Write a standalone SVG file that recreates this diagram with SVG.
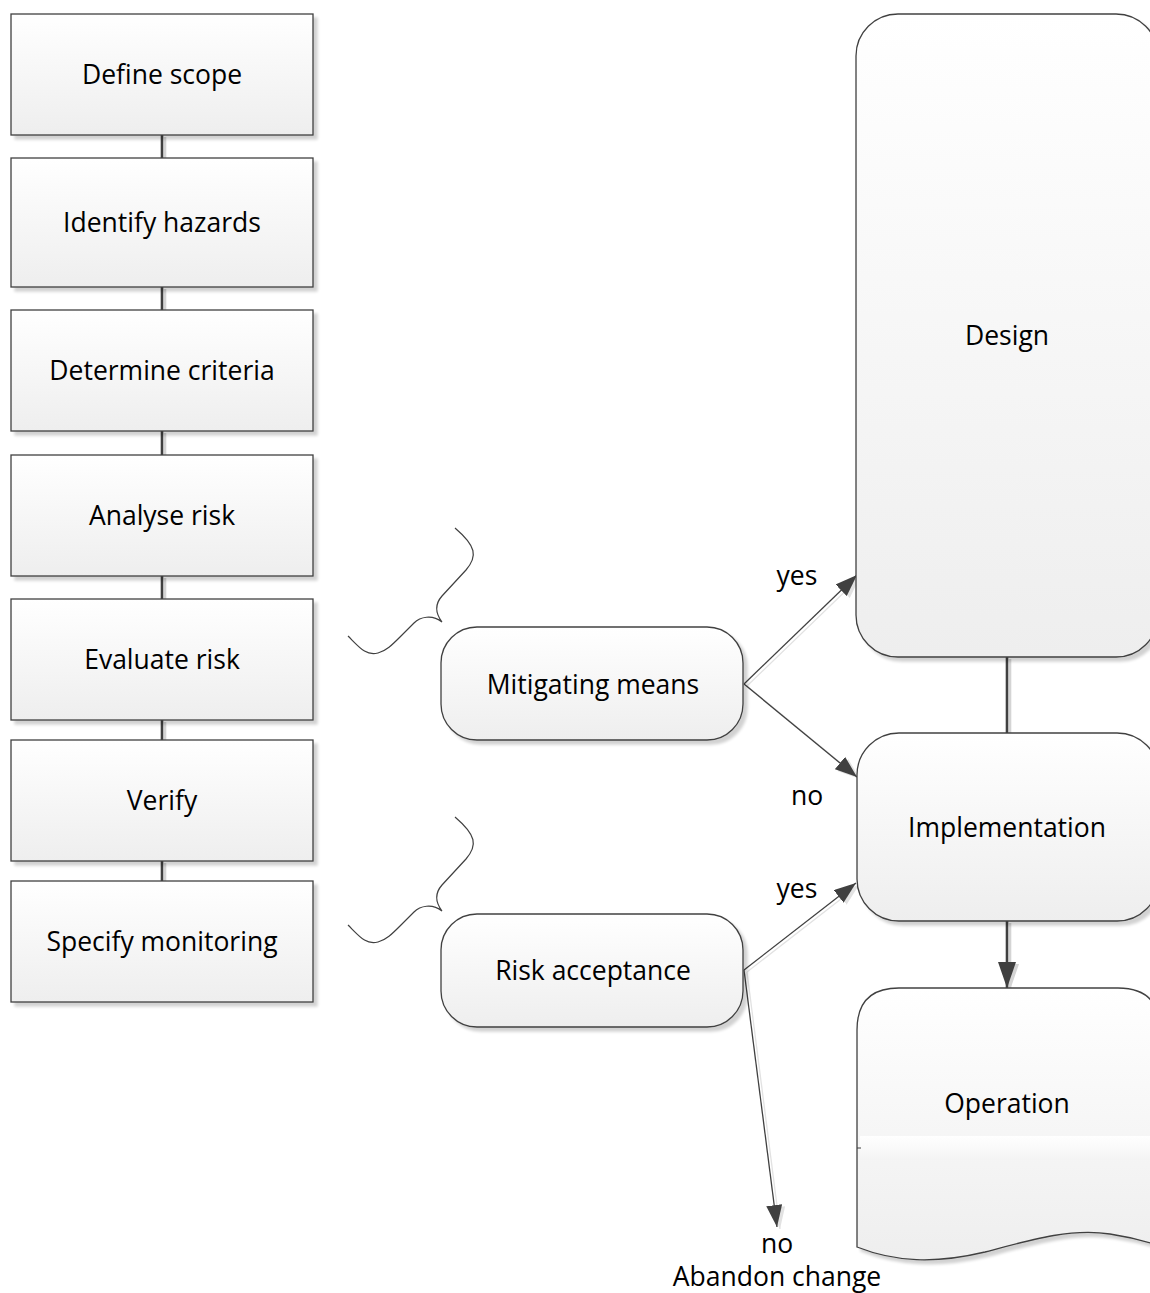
<svg xmlns="http://www.w3.org/2000/svg" width="1150" height="1293" viewBox="0 0 1150 1293">
  <style>
    .box { fill: url(#fillGrad); stroke: #404040; stroke-width: 1.3; filter: url(#shadow); }
    .lbl { font-family: "Open Sans", "Liberation Sans", sans-serif; font-size: 26.5px; fill: #000; text-anchor: middle; dominant-baseline: central; }
    .tag { font-family: "Open Sans", "Liberation Sans", sans-serif; font-size: 26.5px; fill: #000; text-anchor: middle; }
    .link { stroke: #404040; stroke-width: 2.6; fill: none; }
    .linkShade { stroke: #d4d4d4; stroke-width: 2.6; fill: none; }
    .flow { stroke: #404040; stroke-width: 1.3; fill: none; }
    .flowShade { stroke: #e2e2e2; stroke-width: 1.3; fill: none; }
    .brace { stroke: #404040; stroke-width: 1.2; fill: none; }
  </style>
  <defs>
    <linearGradient id="fillGrad" x1="0" y1="0" x2="0" y2="1">
      <stop offset="0" stop-color="#ffffff"/>
      <stop offset="1" stop-color="#eeeeee"/>
    </linearGradient>
    <linearGradient id="bandGrad" x1="0" y1="0" x2="0" y2="1">
      <stop offset="0" stop-color="#ffffff"/>
      <stop offset="1" stop-color="#f4f4f4"/>
    </linearGradient>
    <filter id="shadow" x="-10%" y="-10%" width="130%" height="130%">
      <feGaussianBlur in="SourceAlpha" stdDeviation="1.5"/>
      <feOffset dx="4" dy="4" result="o"/>
      <feComponentTransfer><feFuncA type="linear" slope="0.18"/></feComponentTransfer>
      <feMerge><feMergeNode/><feMergeNode in="SourceGraphic"/></feMerge>
    </filter>
    <marker id="arrow" viewBox="0 0 22 16" refX="22" refY="8" markerWidth="22" markerHeight="16" markerUnits="userSpaceOnUse" orient="auto">
      <path d="M0,0 L22,8 L0,16 Z" fill="#404040"/>
    </marker>
    <marker id="arrowShade" viewBox="0 0 22 16" refX="22" refY="8" markerWidth="22" markerHeight="16" markerUnits="userSpaceOnUse" orient="auto">
      <path d="M0,0 L22,8 L0,16 Z" fill="#e2e2e2"/>
    </marker>
    <marker id="arrowBig" viewBox="0 0 26 18" refX="26" refY="9" markerWidth="26" markerHeight="18" markerUnits="userSpaceOnUse" orient="auto">
      <path d="M0,0 L26,9 L0,18 Z" fill="#404040"/>
    </marker>
    <marker id="arrowBigShade" viewBox="0 0 26 18" refX="26" refY="9" markerWidth="26" markerHeight="18" markerUnits="userSpaceOnUse" orient="auto">
      <path d="M0,0 L26,9 L0,18 Z" fill="#d4d4d4"/>
    </marker>
  </defs>

  <!-- connectors: a pale offset copy under each line gives the drop shadow -->
  <g id="connectors">
    <g transform="translate(3,2)">
      <path class="linkShade" d="M162,135 V158 M162,287 V310 M162,431 V455 M162,576 V599 M162,720 V740 M162,861 V881 M1007,657 V733"/>
      <path class="linkShade" d="M1007,921 V988" marker-end="url(#arrowBigShade)"/>
      <path class="flowShade" d="M744,684 L857,575" marker-end="url(#arrowShade)"/>
      <path class="flowShade" d="M744,684 L857,777" marker-end="url(#arrowShade)"/>
      <path class="flowShade" d="M744,970 L856,883" marker-end="url(#arrowShade)"/>
      <path class="flowShade" d="M744,970 L777,1227" marker-end="url(#arrowShade)"/>
    </g>
    <path class="link" d="M162,135 V158 M162,287 V310 M162,431 V455 M162,576 V599 M162,720 V740 M162,861 V881 M1007,657 V733"/>
    <path class="link" d="M1007,921 V988" marker-end="url(#arrowBig)"/>
    <path class="flow" d="M744,684 L857,575" marker-end="url(#arrow)"/>
    <path class="flow" d="M744,684 L857,777" marker-end="url(#arrow)"/>
    <path class="flow" d="M744,970 L856,883" marker-end="url(#arrow)"/>
    <path class="flow" d="M744,970 L777,1227" marker-end="url(#arrow)"/>
  </g>

  <!-- process steps -->
  <g id="define-scope"><rect class="box" x="11" y="14" width="302" height="121"/><text class="lbl" x="162" y="74">Define scope</text></g>
  <g id="identify-hazards"><rect class="box" x="11" y="158" width="302" height="129"/><text class="lbl" x="162" y="222">Identify hazards</text></g>
  <g id="determine-criteria"><rect class="box" x="11" y="310" width="302" height="121"/><text class="lbl" x="162" y="370">Determine criteria</text></g>
  <g id="analyse-risk"><rect class="box" x="11" y="455" width="302" height="121"/><text class="lbl" x="162" y="515">Analyse risk</text></g>
  <g id="evaluate-risk"><rect class="box" x="11" y="599" width="302" height="121"/><text class="lbl" x="162" y="659">Evaluate risk</text></g>
  <g id="verify"><rect class="box" x="11" y="740" width="302" height="121"/><text class="lbl" x="162" y="800">Verify</text></g>
  <g id="specify-monitoring"><rect class="box" x="11" y="881" width="302" height="121"/><text class="lbl" x="162" y="941">Specify monitoring</text></g>

  <!-- braces -->
  <g id="brace-evaluate">
    <path class="brace" d="M348,636 C360,648 366,656 378,653 C386,651 392,645 400,637 L414,623 C420,617 432,614 442,622 C436,614 434,605 442,596 L466,570 C478,556 476,546 455,528"/>
  </g>
  <g id="brace-monitoring" transform="translate(0,289)">
    <path class="brace" d="M348,636 C360,648 366,656 378,653 C386,651 392,645 400,637 L414,623 C420,617 432,614 442,622 C436,614 434,605 442,596 L466,570 C478,556 476,546 455,528"/>
  </g>

  <!-- decisions -->
  <g id="mitigating-means"><rect class="box" x="441" y="627" width="302" height="113" rx="36" ry="36"/><text class="lbl" x="593" y="684">Mitigating means</text></g>
  <g id="risk-acceptance"><rect class="box" x="441" y="914" width="302" height="113" rx="36" ry="36"/><text class="lbl" x="593" y="970">Risk acceptance</text></g>

  <!-- life-cycle phases -->
  <g id="design"><rect class="box" x="856" y="14" width="302" height="643" rx="42" ry="42"/><text class="lbl" x="1007" y="335">Design</text></g>
  <g id="implementation"><rect class="box" x="857" y="733" width="302" height="188" rx="42" ry="42"/><text class="lbl" x="1007" y="827">Implementation</text></g>
  <g id="operation">
    <path class="box" d="M857,1247 L857,1030 Q857,988 899,988 L1118,988 Q1160,988 1160,1030 L1160,1246 C1145,1241 1130,1237 1110,1234 C1070,1228 1030,1240 985,1252 C935,1264 895,1262 857,1247 Z"/>
    <rect x="860" y="1136" width="300" height="24" fill="url(#bandGrad)"/>
    <line x1="857" y1="1148" x2="861" y2="1148" stroke="#404040" stroke-width="1"/>
    <text class="lbl" x="1007" y="1103">Operation</text>
  </g>

  <!-- branch labels -->
  <g id="labels">
    <text class="lbl" x="797" y="575">yes</text>
    <text class="lbl" x="807" y="795">no</text>
    <text class="lbl" x="797" y="888">yes</text>
    <text class="tag" x="777" y="1253">no</text>
    <text class="tag" x="777" y="1286">Abandon change</text>
  </g>
</svg>
